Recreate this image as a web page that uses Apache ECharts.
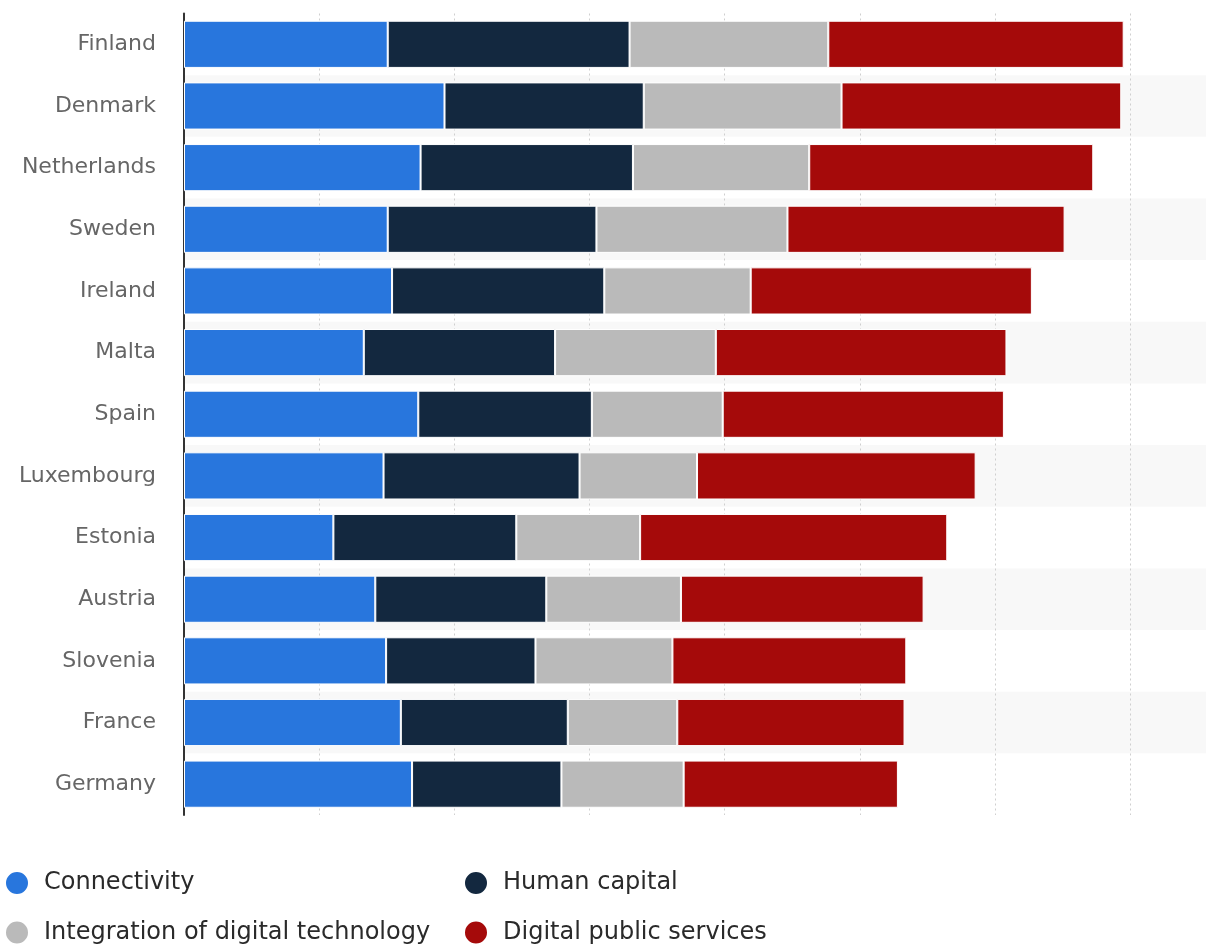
<!DOCTYPE html>
<html>
<head>
<meta charset="utf-8">
<script src="https://cdn.jsdelivr.net/npm/echarts@6/dist/echarts.min.js"></script>
<style>
  html, body { margin: 0; padding: 0; background: #fff; }
  #chart { width: 1212px; height: 946px; }
</style>
</head>
<body>
<div id="chart"></div>
<script>
// DESI component scores by country
const countries = ['Finland', 'Denmark', 'Netherlands', 'Sweden', 'Ireland', 'Malta', 'Spain',
  'Luxembourg', 'Estonia', 'Austria', 'Slovenia', 'France', 'Germany'];
const connectivity = [15.07, 19.27, 17.50, 15.07, 15.39, 13.30, 17.33, 14.76, 11.05, 14.15, 14.95, 16.04, 16.87];
const humanCapital = [17.89, 14.74, 15.71, 15.44, 15.70, 14.15, 12.84, 14.50, 13.53, 12.65, 11.05, 12.35, 11.05];
const integration = [14.70, 14.63, 13.04, 14.13, 10.83, 11.89, 9.68, 8.69, 9.16, 9.96, 10.13, 8.10, 9.04];
const publicServices = [21.85, 20.69, 21.01, 20.50, 20.80, 21.50, 20.80, 20.61, 22.72, 17.95, 17.30, 16.81, 15.85];

const seriesNames = ['Connectivity', 'Human capital', 'Integration of digital technology', 'Digital public services'];
const seriesValues = [connectivity, humanCapital, integration, publicServices];
const seriesColors = ['#2876dd', '#13283f', '#bababa', '#a50a0a'];

const chart = echarts.init(document.getElementById('chart'));

// legend laid out as a 2x2 block under the plot
const legendPos = [
  { left: 4, top: 870 },
  { left: 463, top: 870 },
  { left: 4, top: 919.5 },
  { left: 463, top: 919.5 }
];

chart.setOption({
  animation: false,
  grid: { left: 184, right: 6, top: 13.5, bottom: 131, containLabel: false },
  xAxis: {
    type: 'value',
    min: 0,
    max: 75.6,
    interval: 10,
    axisLine: { show: false },
    axisTick: { show: false },
    axisLabel: { show: false },
    splitLine: {
      show: true,
      showMaxLine: false,
      lineStyle: { color: '#cfcfcf', width: 1, type: [2, 3] }
    }
  },
  yAxis: {
    type: 'category',
    data: countries,
    inverse: true,
    axisLine: { show: true, lineStyle: { color: '#333', width: 2 } },
    axisTick: { show: false },
    axisLabel: {
      color: '#666',
      fontFamily: 'DejaVu Sans',
      fontSize: 22,
      margin: 28
    },
    splitArea: { show: true, areaStyle: { color: ['rgba(255,255,255,0)', '#f8f8f8'] } }
  },
  legend: seriesNames.map((name, i) => ({
    data: [name],
    left: legendPos[i].left,
    top: legendPos[i].top,
    padding: 0,
    icon: 'circle',
    itemWidth: 24,
    itemHeight: 24,
    itemGap: 0,
    textStyle: {
      color: '#2a2a2a',
      fontFamily: 'DejaVu Sans',
      fontSize: 24,
      lineHeight: 24,
      padding: [0, 0, 0, 10]
    }
  })),
  series: seriesNames.map((name, i) => ({
    name,
    type: 'bar',
    stack: 'total',
    data: seriesValues[i],
    barCategoryGap: '23.5%',
    itemStyle: { color: seriesColors[i], borderColor: '#fff', borderWidth: 1 }
  }))
});
</script>
</body>
</html>
